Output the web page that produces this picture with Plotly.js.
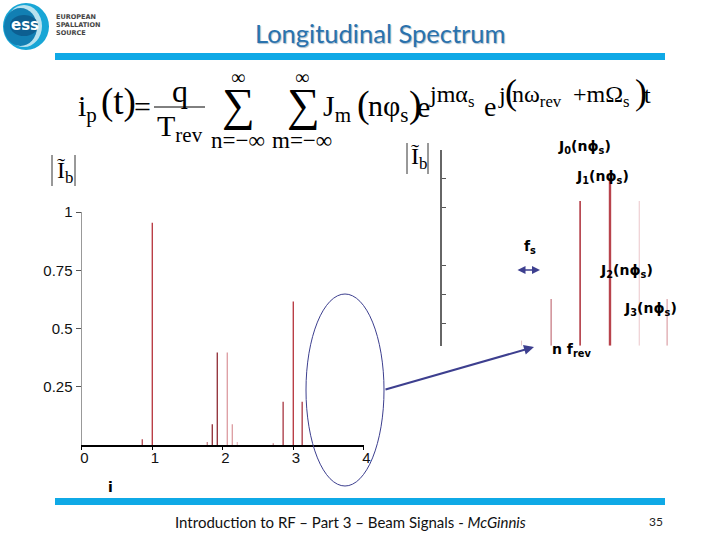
<!DOCTYPE html>
<html><head><meta charset="utf-8">
<script src="https://cdn.plot.ly/plotly-3.0.1.min.js"></script>
<style>html,body{margin:0;padding:0;background:#fff}</style></head>
<body><div id="chart" style="width:720px;height:540px"></div>
<script>
// Main spectrum (0..4 harmonic axis)
const mainX  = [0.862, 1.004, 1.784, 1.855, 1.926, 2.068, 2.139, 2.21, 2.72, 2.86, 3.004, 3.13];
const mainY  = [0.026, 0.954, 0.014, 0.09, 0.398, 0.398, 0.09, 0.014, 0.009, 0.187, 0.616, 0.187];
const mainCol= ['#b5474f','#b5303a','#c9848a','#8e2a33','#8e2a33','#dc9ba0','#dc9ba0','#e8bcc0','#c9848a','#a83540','#b5303a','#a83540'];
const mainTicksX = [0, 1, 2, 3, 4];
const mainTicksY = [0.25, 0.5, 0.75, 1];
const mainTickYText = ['0.25', '0.5', '0.75', '1'];

// Zoomed spectrum around n f_rev, x in synchrotron sidebands
const zoomX   = [-3.05, -2.03, -1.03, 0, 1.01, 1.97];
const zoomY   = [0.026, 0.239, 0.74, 0.857, 0.74, 0.239];
const zoomCol = ['#e3c4c6', '#c4727b', '#b23a44', '#b8434c', '#eed0d3', '#dba0a6'];
const zoomW   = [1, 1.2, 1.6, 2.4, 1.2, 1.2];
const zoomTicks = [0.111, 0.26, 0.408, 0.704, 0.852, 1];

const PX = x => x / 720, PY = y => 1 - y / 540;
const rule = '#0fa9e6', navy = '#3d3f8f';
const serif = 'Liberation Serif';

function txt(x, y, text, size, opts) {
  return Object.assign({xref:'paper', yref:'paper', x:PX(x), y:PY(y), text:text, showarrow:false,
    xanchor:'left', yanchor:'middle', font:{family:serif, size:size, color:'#000'}}, opts||{});
}
const bold = {family:'DejaVu Sans', size:14, color:'#000', weight:700};
const jLabel = (x, y, k) => txt(x, y, 'J<sub>'+k+'</sub>(n\u03D5<sub>s</sub>)', 14, {font:bold});
const logoFont = {family:'DejaVu Sans', size:6.5, color:'#444', weight:700};

const annotations = [
  txt(380, 33, 'Longitudinal Spectrum', 25.5, {xanchor:'center',
      font:{family:'Lato', size:25.5, color:'#2a72ad', shadow:'1px 1px 1px #a9bccb'}}),
  txt(25, 25, 'ess', 15, {xanchor:'center', font:{family:'DejaVu Sans', size:15, color:'#fff', weight:700}}),
  txt(54, 16.5, 'EUROPEAN', 6.5, {font:logoFont}),
  txt(54, 25, 'SPALLATION', 6.5, {font:logoFont}),
  txt(54, 33, 'SOURCE', 6.5, {font:logoFont}),
  // formula
  txt(76, 108, 'i<sub>p</sub>', 30),
  txt(99, 102, '(t)', 37),
  txt(132, 106, '=', 30),
  txt(180, 91, 'q', 32, {xanchor:'center'}),
  txt(180, 128, 'T<sub>rev</sub>', 30, {xanchor:'center'}),
  txt(238, 104, '\u2211', 46, {xanchor:'center'}),
  txt(238, 77, '\u221E', 20, {xanchor:'center'}),
  txt(238, 141, 'n=\u2212\u221E', 23, {xanchor:'center'}),
  txt(303, 104, '\u2211', 46, {xanchor:'center'}),
  txt(302, 77, '\u221E', 20, {xanchor:'center'}),
  txt(302, 141, 'm=\u2212\u221E', 23, {xanchor:'center'}),
  txt(321, 108, 'J<sub>m</sub>', 30),
  txt(355, 104, '(', 38),
  txt(366, 108, 'n\u03C6<sub>s</sub>', 30),
  txt(407, 104, ')', 38),
  txt(415, 106, 'e', 30),
  txt(427, 96, 'jm\u03B1<sub>s</sub>', 24),
  txt(482, 106, 'e', 28),
  txt(496, 95, 'j', 24),
  txt(503, 92, '(', 36),
  txt(510, 96, 'n\u03C9<sub>rev</sub>', 24),
  txt(571, 96, '+m\u03A9<sub>s</sub>', 24),
  txt(633, 92, ')', 36),
  txt(642, 95, 't', 24),
  // |I_b| labels
  txt(55, 172, '\u0128<sub>b</sub>', 24),
  txt(409, 158, '\u0128<sub>b</sub>', 24),
  // callouts
  jLabel(556, 147, 0),
  jLabel(574, 177, 1),
  jLabel(598, 271, 2),
  jLabel(622, 309, 3),
  txt(522, 247, 'f<sub>s</sub>', 14, {font:bold}),
  txt(550, 350, 'n f<sub>rev</sub>', 14, {font:bold}),
  txt(110, 487, 'i', 13, {xanchor:'center', font:bold}),
  // footer
  txt(350, 522, 'Introduction to RF \u2013 Part 3 \u2013 Beam Signals - <i>McGinnis</i>', 15, {xanchor:'center',
      font:{family:'Lato', size:15, color:'#111'}}),
  txt(656, 521, '35', 12, {xanchor:'center', font:{family:'Lato', size:12, color:'#222'}}),
  // arrows
  {xref:'paper', yref:'paper', axref:'paper', ayref:'paper', x:PX(534), y:PY(347), ax:PX(384), ay:PY(390),
   text:'', showarrow:true, arrowhead:2, arrowwidth:2, arrowcolor:navy, arrowsize:1},
  {xref:'paper', yref:'paper', axref:'paper', ayref:'paper', x:PX(540), y:PY(270), ax:PX(516), ay:PY(270),
   text:'', showarrow:true, arrowhead:2, arrowside:'end+start', arrowwidth:1.6, arrowcolor:navy, arrowsize:1}
];

const paperLine = (x0, y0, x1, y1, color, w) => ({type:'line', xref:'paper', yref:'paper',
  x0:PX(x0), y0:PY(y0), x1:PX(x1), y1:PY(y1), line:{color:color, width:w}});
const circle = (x0, y0, x1, y1, fill) => ({type:'circle', xref:'paper', yref:'paper',
  x0:PX(x0), x1:PX(x1), y0:PY(y0), y1:PY(y1), fillcolor:fill, line:{width:0}});
const shapes = [
  {type:'rect', xref:'paper', yref:'paper', x0:PX(55), x1:PX(665), y0:PY(53), y1:PY(60), fillcolor:rule, line:{width:0}},
  {type:'rect', xref:'paper', yref:'paper', x0:PX(55), x1:PX(665), y0:PY(498), y1:PY(505), fillcolor:rule, line:{width:0}},
  // logo
  circle(3, 3, 49, 50, '#18a6d6'),
  circle(6, 5, 42, 47, '#b8e2ef'),
  circle(4, 8, 37, 46, '#127fb3'),
  circle(10, 15, 38, 36, '#0d5f91'),
  // fraction bar
  paperLine(154, 107, 205, 107, '#000', 1),
  // abs bars
  paperLine(52, 155, 52, 186, '#333', 1), paperLine(75, 155, 75, 186, '#333', 1),
  paperLine(407, 143, 407, 174, '#333', 1), paperLine(428, 143, 428, 174, '#333', 1),
  // ellipse
  {type:'circle', xref:'paper', yref:'paper', x0:PX(306), x1:PX(384), y0:PY(294), y1:PY(486), line:{color:navy, width:1}}
];

function stems(xs, ys, cols, w, xa, ya) {
  return xs.map((x, i) => ({type:'scatter', mode:'lines', x:[x, x], y:[0, ys[i]], xaxis:xa, yaxis:ya,
    line:{color:cols[i], width:Array.isArray(w) ? w[i] : w}, hoverinfo:'skip', showlegend:false}));
}

const tickFont = {family:'Liberation Sans', size:15, color:'#111'};
const data = [
  ...stems(mainX, mainY, mainCol, 1.3, 'x', 'y'),
  ...stems(zoomX, zoomY, zoomCol, zoomW, 'x2', 'y2')
];
const layout = {
  width:720, height:540, margin:{l:0, r:0, t:0, b:0}, paper_bgcolor:'#fff', plot_bgcolor:'rgba(0,0,0,0)',
  showlegend:false, annotations, shapes,
  xaxis:{domain:[PX(81.5), PX(363.5)], range:[0, 4], anchor:'y', tickvals:mainTicksX, ticktext:mainTicksX.map(String),
         tickfont:tickFont, ticklabelshift:3, ticklabelstandoff:-5, ticks:'outside', ticklen:3, tickcolor:'#000',
         showgrid:false, zeroline:false, showline:true, linecolor:'#000', linewidth:1.2},
  yaxis:{domain:[PY(445.3), PY(212)], range:[0, 1], anchor:'x', tickvals:mainTicksY, ticktext:mainTickYText,
         tickfont:tickFont, ticks:'outside', ticklen:5, tickcolor:'#555',
         showgrid:false, zeroline:false, showline:true, linecolor:'#999', linewidth:1},
  xaxis2:{domain:[PX(442), PX(690)], range:[-5.793, 2.759], anchor:'y2', visible:false},
  yaxis2:{domain:[PY(345.7), PY(150)], range:[0, 1], anchor:'x2', tickvals:zoomTicks, ticktext:zoomTicks.map(()=>''),
          ticks:'inside', ticklen:4, tickcolor:'#555', showgrid:false, zeroline:false, showline:true, linecolor:'#666', linewidth:2}
};
Plotly.newPlot('chart', data, layout, {displayModeBar:false, staticPlot:true});
</script></body></html>
